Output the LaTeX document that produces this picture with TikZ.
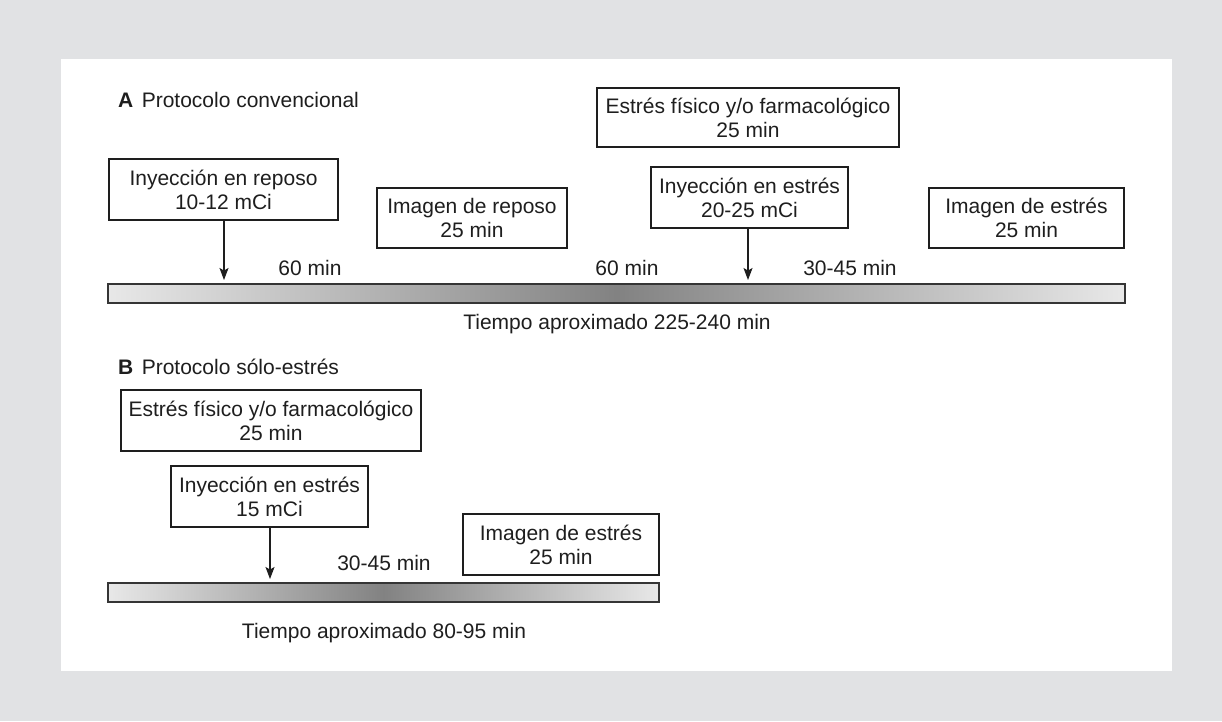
\documentclass[tikz,border=0pt]{standalone}
\usepackage{fontspec}
\setmainfont{Liberation Sans}
\usetikzlibrary{arrows.meta}
\definecolor{bggray}{HTML}{E1E2E4}
\definecolor{barlight}{HTML}{E8E8E8}
\definecolor{bardark}{HTML}{828282}
\definecolor{ink}{HTML}{1E1E1E}
\tikzset{
  x=1pt, y=-1pt,
  txt/.style={font=\fontsize{21}{24}\selectfont, text=ink, inner sep=0pt},
  box/.style={draw=ink, line width=1.2pt, fill=white, align=center,
    font=\fontsize{21}{24}\selectfont, text=ink, inner sep=0pt},
  bar/.style={draw=ink!90, line width=1.6pt, left color=barlight, right color=barlight, middle color=bardark},
  arr/.style={draw=ink, line width=1.1pt, -{Stealth[length=12pt,width=9pt,inset=2.5pt]}},
}
\begin{document}
\begin{tikzpicture}
\fill[bggray] (0,0) rectangle (1222,721);
\fill[white] (61,59) rectangle (1172,671);
\useasboundingbox (0,0) rectangle (1222,721);

% ---- A ----
\node[txt, anchor=west] (titA) at (118,100) {\textbf{A}\hspace{0.4em}Protocolo convencional};

\node[box, minimum width=229pt, minimum height=61pt] (inyA1) at (223.5,189.5) {Inyección en reposo\\10-12 mCi};
\node[box, minimum width=190pt, minimum height=60pt] (imgA1) at (472,218) {Imagen de reposo\\25 min};
\node[box, minimum width=302pt, minimum height=59pt] (estA) at (748,117.5) {Estrés físico y/o farmacológico\\25 min};
\node[box, minimum width=197pt, minimum height=61pt] (inyA2) at (749.5,197.5) {Inyección en estrés\\20-25 mCi};
\node[box, minimum width=195pt, minimum height=60pt] (imgA2) at (1026.5,218) {Imagen de estrés\\25 min};

\node[txt] (t60a) at (310,268) {60 min};
\node[txt] (t60b) at (627,268) {60 min};
\node[txt] (t3045a) at (850,268) {30-45 min};

\shade[bar] (108,284) rectangle (1125,303);

\coordinate (tipA1) at (224,280);
\coordinate (tipA2) at (748,280);
\draw[arr] (inyA1.south -| tipA1) -- (tipA1);
\draw[arr] (inyA2.south -| tipA2) -- (tipA2);

\node[txt] (totA) at (617,324) {Tiempo aproximado 225-240 min};

% ---- B ----
\node[txt, anchor=west] (titB) at (118,367) {\textbf{B}\hspace{0.4em}Protocolo sólo-estrés};

\node[box, minimum width=300pt, minimum height=61pt] (estB) at (271,420.5) {Estrés físico y/o farmacológico\\25 min};
\node[box, minimum width=197pt, minimum height=61pt] (inyB) at (269.5,496.5) {Inyección en estrés\\15 mCi};
\node[box, minimum width=196pt, minimum height=61pt] (imgB) at (561,544.5) {Imagen de estrés\\25 min};

\node[txt] (t3045b) at (384,563) {30-45 min};

\shade[bar] (108,583) rectangle (659,602);

\coordinate (tipB) at (270,579);
\draw[arr] (inyB.south -| tipB) -- (tipB);

\node[txt] (totB) at (384,633) {Tiempo aproximado 80-95 min};
\end{tikzpicture}
\end{document}
